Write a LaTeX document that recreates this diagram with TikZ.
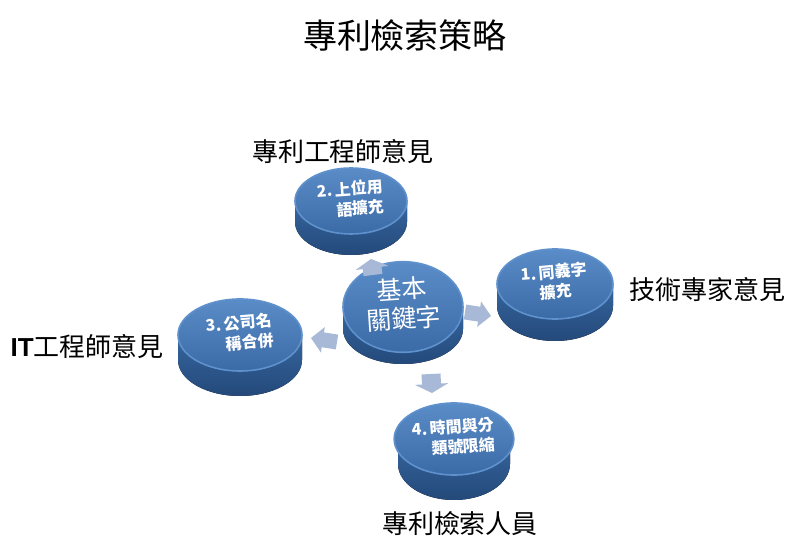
\documentclass[tikz,border=0pt]{standalone}
\usepackage{fontspec}
\usepackage{graphicx}
\setmainfont{Noto Sans CJK TC}
\newfontfamily\latin{Liberation Sans}
\usetikzlibrary{positioning}
\usetikzlibrary{shapes.geometric}
\usetikzlibrary{arrows.meta}
\definecolor{facetop}{HTML}{5A8CC8}
\definecolor{facebot}{HTML}{3B6BA6}
\definecolor{facerim}{HTML}{5F91CC}
\definecolor{sidetop}{HTML}{36669F}
\definecolor{sidebot}{HTML}{24497A}
\definecolor{flowc}{HTML}{A7B9D6}
\begin{document}
\begin{tikzpicture}[x=0.5pt, y=0.5pt,
		face/.style={ellipse, inner sep=0pt, top color=facetop, bottom color=facebot,
			draw=facerim, line width=0.8pt, text=white, align=center,
			font=\bfseries\fontsize{8}{10}\selectfont},
		side/.style={top color=sidetop, bottom color=sidebot},
		tag/.style={inner sep=0pt, font=\fontsize{13}{15}\selectfont},
		vflow/.style={draw=flowc, line width=9.5pt, -{Triangle[width=16.5pt,length=4.5pt]}},
		hflow/.style={draw=flowc, line width=7.5pt, -{Triangle[width=12.5pt,length=6pt]}}]
		\useasboundingbox (0,0) rectangle (800,552);
		\node [tag, font=\fontsize{17}{19}\selectfont] (title) at (405,517) {專利檢索策略};

		\foreach \x/\y/\rx/\ry/\t in {351/351/56/33/21, 555/268/58/35/22, 403/245/60/35/22,
			240/217/62/36/25, 454/113/56/36/25}
			\fill[side] (\x-\rx,\y) -- ++(0,-\t)
				arc[start angle=180, end angle=360, x radius=\rx, y radius=\ry] -- ++(0,\t)
				arc[start angle=0, end angle=-180, x radius=\rx, y radius=\ry] -- cycle;

		\node [face, minimum width=56pt, minimum height=33pt] (d2) at (351,351)
			{\rotatebox{4}{\begin{tabular}{@{}r@{}}2.\,上位用\\語擴充\end{tabular}}};
		\node [face, minimum width=58pt, minimum height=35pt] (d1) at (555,268)
			{\rotatebox{5}{\begin{tabular}{@{}c@{}}1.\,同義字\\擴充\end{tabular}}};
		\node [face, minimum width=60pt, minimum height=35pt,
			font=\fontsize{12.5}{14}\selectfont] (key) at (403,245)
			{\rotatebox{4}{\begin{tabular}{@{}c@{}}基本\\關鍵字\end{tabular}}};
		\node [face, minimum width=62pt, minimum height=36pt] (d3) at (240,217)
			{\rotatebox{5}{\begin{tabular}{@{}r@{}}3.\,公司名\\稱合併\end{tabular}}};
		\node [face, minimum width=56pt, minimum height=36pt] (d4) at (454,113)
			{\rotatebox{4}{\begin{tabular}{@{}r@{}}4.\,時間與分\\類號限縮\end{tabular}}};

		\node [tag, above=1.5pt of d2, xshift=-4pt] (l2) {專利工程師意見};
		\node [tag, right=7.5pt of d1, yshift=-3pt] (l1) {技術專家意見};
		\node [tag, left=6.5pt of d3, yshift=-6pt] (l3) {{\latin\bfseries IT}工程師意見};
		\node [tag, below=17.5pt of d4, xshift=3pt] (l4) {專利檢索人員};

		\coordinate (up0) at (373,277);
		\coordinate (up1) at (371,293);
		\coordinate (rt0) at (465,240);
		\coordinate (rt1) at (491,236);
		\coordinate (lf0) at (337,210);
		\coordinate (lf1) at (311,214);
		\coordinate (dn0) at (431,178);
		\coordinate (dn1) at (432,159);
		\draw [vflow] (up0) -- (up1);
		\draw [hflow] (rt0) -- (rt1);
		\draw [hflow] (lf0) -- (lf1);
		\draw [vflow] (dn0) -- (dn1);
\end{tikzpicture}
\end{document}
